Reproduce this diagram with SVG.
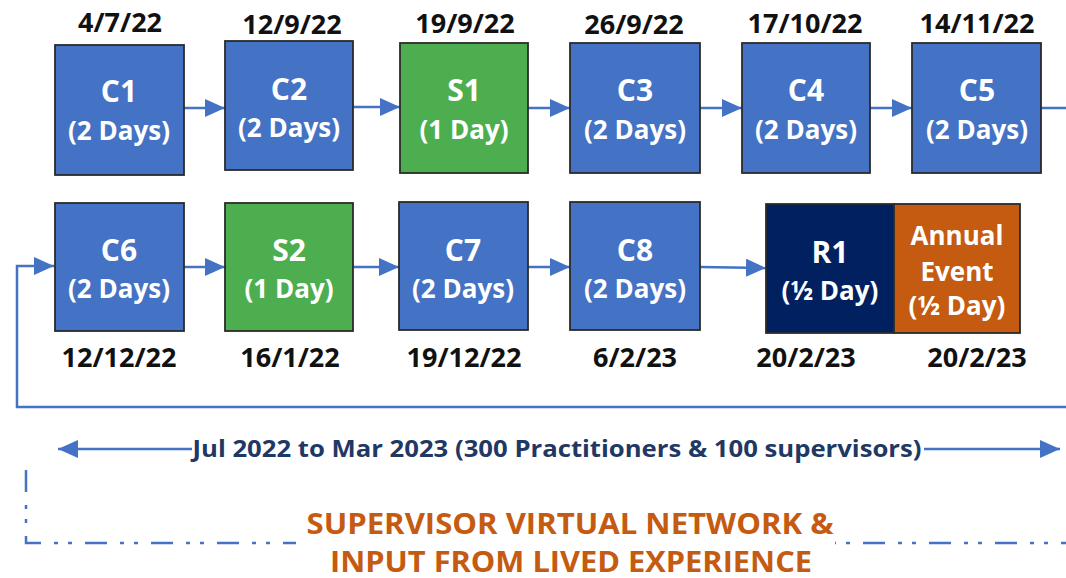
<svg xmlns="http://www.w3.org/2000/svg" width="1066" height="578" viewBox="0 0 1066 578">
<style>
.box{stroke:#2b2b2b;stroke-width:1.8}
.blue{fill:#4472C4}
.green{fill:#4DAE50}
.navy{fill:#002060}
.orange{fill:#C55A11}
.t{font-family:"Open Sans","Liberation Sans",sans-serif;font-weight:700;text-anchor:middle}
.title{fill:#ffffff;font-size:30px}
.sub{fill:#ffffff;font-size:26px}
.date{fill:#111111;font-size:27px}
.conn{fill:none;stroke:#4472C4;stroke-width:2.5}
.dash{fill:none;stroke:#4472C4;stroke-width:2.5;stroke-dasharray:22 13 4 10 4 13}
.span{fill:#1F3864;font-size:24px}
.net{fill:#C55A11;font-size:28px}
</style>
<defs>
<marker id="ah" viewBox="0 0 20 18" refX="20" refY="9" markerWidth="20" markerHeight="18" markerUnits="userSpaceOnUse" orient="auto-start-reverse">
<path d="M0,0 L20,9 L0,18 z" fill="#4472C4"/>
</marker>
</defs>
<g id="connectors">
<line class="conn" x1="184" y1="108" x2="225" y2="108" marker-end="url(#ah)"/>
<line class="conn" x1="353" y1="107" x2="400" y2="107" marker-end="url(#ah)"/>
<line class="conn" x1="528" y1="108" x2="570" y2="108" marker-end="url(#ah)"/>
<line class="conn" x1="700" y1="108" x2="742" y2="108" marker-end="url(#ah)"/>
<line class="conn" x1="870" y1="108" x2="912" y2="108" marker-end="url(#ah)"/>
<path class="conn" d="M1041,108 H1080 V407 H17 V266 H54" marker-end="url(#ah)"/>
<line class="conn" x1="184" y1="267" x2="225" y2="267" marker-end="url(#ah)"/>
<line class="conn" x1="353" y1="267" x2="399" y2="267" marker-end="url(#ah)"/>
<line class="conn" x1="528" y1="267" x2="570" y2="267" marker-end="url(#ah)"/>
<line class="conn" x1="700" y1="267" x2="766" y2="268" marker-end="url(#ah)"/>
<line class="conn" x1="58" y1="449" x2="192" y2="449" marker-start="url(#ah)"/>
<line class="conn" x1="924" y1="449" x2="1060" y2="449" marker-end="url(#ah)"/>
<path class="dash" d="M26,470 V543 H296"/>
<path class="dash" d="M835,543 H1066" style="stroke-dashoffset:-28"/>
</g>
<g id="C1">
<text class="t date" x="120" y="32">4/7/22</text>
<rect class="box blue" x="55" y="45" width="129" height="130"/>
<text class="t title" x="119" y="102">C1</text>
<text class="t sub" x="119" y="140">(2 Days)</text>
</g>
<g id="C2">
<text class="t date" x="292" y="34">12/9/22</text>
<rect class="box blue" x="225" y="41" width="128" height="129"/>
<text class="t title" x="289" y="100">C2</text>
<text class="t sub" x="289" y="137">(2 Days)</text>
</g>
<g id="S1">
<text class="t date" x="465" y="33">19/9/22</text>
<rect class="box green" x="400" y="43" width="128" height="130"/>
<text class="t title" x="464" y="101">S1</text>
<text class="t sub" x="464" y="139">(1 Day)</text>
</g>
<g id="C3">
<text class="t date" x="634" y="34">26/9/22</text>
<rect class="box blue" x="570" y="43" width="130" height="130"/>
<text class="t title" x="635" y="101">C3</text>
<text class="t sub" x="635" y="139">(2 Days)</text>
</g>
<g id="C4">
<text class="t date" x="805" y="33">17/10/22</text>
<rect class="box blue" x="742" y="43" width="128" height="130"/>
<text class="t title" x="806" y="101">C4</text>
<text class="t sub" x="806" y="139">(2 Days)</text>
</g>
<g id="C5">
<text class="t date" x="977" y="33">14/11/22</text>
<rect class="box blue" x="912" y="43" width="129" height="130"/>
<text class="t title" x="977" y="101">C5</text>
<text class="t sub" x="977" y="139">(2 Days)</text>
</g>
<g id="C6">
<rect class="box blue" x="55" y="203" width="129" height="128"/>
<text class="t title" x="119" y="261">C6</text>
<text class="t sub" x="119" y="298">(2 Days)</text>
<text class="t date" x="119" y="367">12/12/22</text>
</g>
<g id="S2">
<rect class="box green" x="225" y="203" width="128" height="128"/>
<text class="t title" x="289" y="261">S2</text>
<text class="t sub" x="289" y="298">(1 Day)</text>
<text class="t date" x="290" y="367">16/1/22</text>
</g>
<g id="C7">
<rect class="box blue" x="399" y="202" width="129" height="128"/>
<text class="t title" x="463" y="261">C7</text>
<text class="t sub" x="463" y="298">(2 Days)</text>
<text class="t date" x="464" y="367">19/12/22</text>
</g>
<g id="C8">
<rect class="box blue" x="570" y="202" width="130" height="128"/>
<text class="t title" x="635" y="261">C8</text>
<text class="t sub" x="635" y="298">(2 Days)</text>
<text class="t date" x="635" y="367">6/2/23</text>
</g>
<g id="R1">
<rect class="box navy" x="766" y="204" width="128" height="129"/>
<text class="t title" x="830" y="263">R1</text>
<text class="t sub" x="830" y="300">(½ Day)</text>
<text class="t date" x="806" y="367">20/2/23</text>
</g>
<g id="AnnualEvent">
<rect class="box orange" x="894" y="204" width="126" height="129"/>
<text class="t sub" x="957" y="245">Annual</text>
<text class="t sub" x="957" y="281">Event</text>
<text class="t sub" x="957" y="315">(½ Day)</text>
<text class="t date" x="977" y="367">20/2/23</text>
</g>
<g id="labels">
<text class="t span" x="557" y="457" textLength="729" lengthAdjust="spacingAndGlyphs">Jul 2022 to Mar 2023 (300 Practitioners &amp; 100 supervisors)</text>
<text class="t net" x="570" y="534" textLength="527" lengthAdjust="spacingAndGlyphs">SUPERVISOR VIRTUAL NETWORK &amp;</text>
<text class="t net" x="571" y="572" textLength="482" lengthAdjust="spacingAndGlyphs">INPUT FROM LIVED EXPERIENCE</text>
</g>
</svg>
